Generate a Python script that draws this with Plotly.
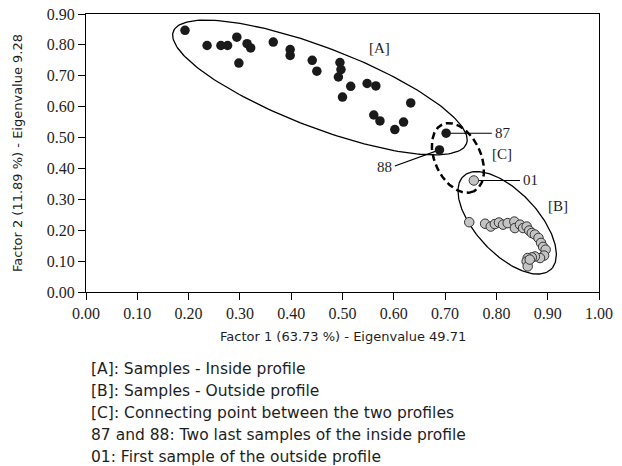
import numpy as np
import plotly.graph_objects as go

# ---------------- data ----------------
inside_x = [0.193, 0.236, 0.263, 0.276, 0.294, 0.314, 0.321, 0.298, 0.365, 0.398,
            0.398, 0.441, 0.450, 0.495, 0.497, 0.492, 0.516, 0.548, 0.565, 0.500,
            0.633, 0.561, 0.573, 0.619, 0.602, 0.702, 0.689]
inside_y = [0.847, 0.798, 0.798, 0.798, 0.825, 0.804, 0.790, 0.741, 0.809, 0.785,
            0.766, 0.750, 0.715, 0.743, 0.720, 0.696, 0.666, 0.675, 0.667, 0.631,
            0.612, 0.573, 0.554, 0.550, 0.526, 0.514, 0.460]
outside_x = [0.756, 0.747, 0.778, 0.789, 0.797, 0.805, 0.813, 0.822, 0.835, 0.836,
             0.846, 0.852, 0.859, 0.864, 0.869, 0.875, 0.882, 0.887, 0.891, 0.896,
             0.893, 0.885, 0.875, 0.869, 0.861, 0.859, 0.861, 0.865]
outside_y = [0.361, 0.226, 0.221, 0.212, 0.220, 0.225, 0.218, 0.223, 0.228, 0.207,
             0.218, 0.207, 0.212, 0.199, 0.191, 0.186, 0.175, 0.159, 0.146, 0.137,
             0.118, 0.110, 0.115, 0.112, 0.110, 0.099, 0.083, 0.105]
x_ticks = [0.0, 0.1, 0.2, 0.3, 0.4, 0.5, 0.6, 0.7, 0.8, 0.9, 1.0]
y_ticks = [0.0, 0.1, 0.2, 0.3, 0.4, 0.5, 0.6, 0.7, 0.8, 0.9]
x_title = "Factor 1 (63.73 %) - Eigenvalue 49.71"
y_title = "Factor 2 (11.89 %) - Eigenvalue 9.28"
notes = ["[A]: Samples - Inside profile",
         "[B]: Samples - Outside profile",
         "[C]: Connecting point between the two profiles",
         "87 and 88: Two last samples of the inside profile",
         "01: First sample of the outside profile"]

# ---------------- layout constants ----------------
OFF = 8                      # default page body margin
WIN_W, WIN_H = 622, 466
W, H = WIN_W - OFF, WIN_H - OFF
PLOT_L, PLOT_R, PLOT_T, PLOT_B = 86, 599, 14, 292.5   # window pixels
ML, MR = PLOT_L - OFF, WIN_W - PLOT_R
MT, MB = PLOT_T - OFF, H - (PLOT_B - OFF)
X_RANGE = [0, 1.0]
Y_RANGE = [0, 0.9]
PW, PH = PLOT_R - PLOT_L, PLOT_B - PLOT_T
sx = PW / (X_RANGE[1] - X_RANGE[0])
sy = PH / (Y_RANGE[1] - Y_RANGE[0])

SERIF = "Liberation Serif, Times New Roman, serif"
SANS = "DejaVu Sans, sans-serif"
TXT = "#1e1e1e"


def ellipse(cx, cy, a_px, b_px, ang_deg, n=200):
    t = np.linspace(0, 2 * np.pi, n)
    th = np.deg2rad(ang_deg)
    dx = a_px * np.cos(t) * np.cos(th) - b_px * np.sin(t) * np.sin(th)
    dy = a_px * np.cos(t) * np.sin(th) + b_px * np.sin(t) * np.cos(th)
    return cx + dx / sx, cy - dy / sy


fig = go.Figure()

# ellipses
for (cx, cy, a, b, ang, dash, lw) in [
        (0.456, 0.662, 157, 40, 21, "solid", 1.3),
        (0.821, 0.224, 64, 31, 47, "solid", 1.3),
        (0.725, 0.434, 37, 23, 65, "7px,4px", 2.5)]:
    ex, ey = ellipse(cx, cy, a, b, ang)
    fig.add_trace(go.Scatter(x=ex, y=ey, mode="lines",
                             line=dict(color="black", width=lw, dash=dash),
                             hoverinfo="skip", showlegend=False))

# connector lines
i87, i88 = 25, 26
for (x0, y0, x1, y1) in [
        (inside_x[i87], inside_y[i87], 0.791, inside_y[i87]),
        (inside_x[i88], inside_y[i88], 0.602, 0.408),
        (outside_x[0], outside_y[0], 0.846, outside_y[0])]:
    fig.add_trace(go.Scatter(x=[x0, x1], y=[y0, y1], mode="lines",
                             line=dict(color="black", width=1.2),
                             hoverinfo="skip", showlegend=False))

fig.add_trace(go.Scatter(x=inside_x, y=inside_y, mode="markers",
                         marker=dict(size=9.5, color="#1a1a1a"),
                         showlegend=False))
fig.add_trace(go.Scatter(x=outside_x, y=outside_y, mode="markers",
                         marker=dict(size=9.5, color="#c4c4c4",
                                     line=dict(color="#333333", width=1)),
                         showlegend=False))

labels = [("[A]", 0.573, 0.789, "center"),
          ("87", 0.793, inside_y[i87], "left"),
          ("[C]", 0.811, 0.447, "center"),
          ("88", 0.600, 0.405, "right"),
          ("01", 0.848, outside_y[0], "left"),
          ("[B]", 0.920, 0.279, "center")]
for txt, x, y, anc in labels:
    fig.add_annotation(x=x, y=y, text=txt, showarrow=False, xanchor=anc,
                       font=dict(family=SERIF, size=15, color=TXT))

# axis titles (placed in window pixels relative to the plot area)
fig.add_annotation(xref="paper", yref="paper", x=0.5, y=0, yanchor="middle",
                   yshift=PLOT_B - 337, text=x_title, showarrow=False,
                   font=dict(family=SANS, size=13, color=TXT))
fig.add_annotation(xref="paper", yref="paper", x=0, y=0.5, xanchor="center",
                   xshift=17 - PLOT_L, text=y_title, textangle=-90,
                   showarrow=False,
                   font=dict(family=SANS, size=13, color=TXT))

for i, txt in enumerate(notes):
    fig.add_annotation(xref="paper", yref="paper", x=0, y=0, xanchor="left",
                       yanchor="middle", xshift=89 - PLOT_L,
                       yshift=PLOT_B - (369 + 22 * i),
                       text=txt, showarrow=False,
                       font=dict(family=SANS, size=15.5, color=TXT))

axis_common = dict(showline=True, linecolor="black", linewidth=1, mirror=True,
                   ticks="outside", ticklen=7, tickcolor="black",
                   showgrid=False, zeroline=False, tickformat=".2f",
                   automargin=False, ticklabeloverflow="allow",
                   tickfont=dict(family=SERIF, size=16, color=TXT))
fig.update_xaxes(range=X_RANGE, tickvals=x_ticks, **axis_common)
fig.update_yaxes(range=Y_RANGE, tickvals=y_ticks, **axis_common)
fig.update_layout(width=W, height=H, margin=dict(l=ML, r=MR, t=MT, b=MB),
                  plot_bgcolor="white", paper_bgcolor="white")
fig.write_html("out.html")
